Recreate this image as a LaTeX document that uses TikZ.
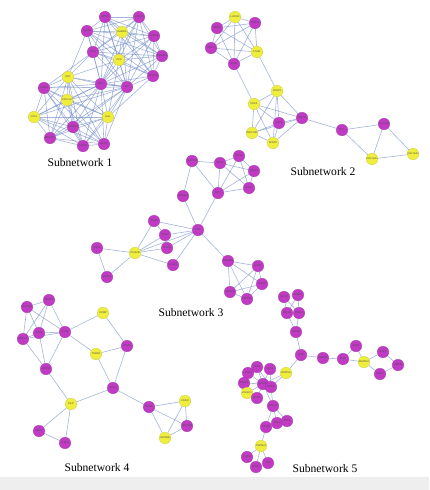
\documentclass[tikz,border=0pt]{standalone}
\usepackage{fontspec}
\setmainfont{Liberation Serif}
\newfontfamily\lblfont{Liberation Sans}
\pgfdeclarelayer{bg}
\pgfsetlayers{bg,main}
\definecolor{mag}{RGB}{192,58,196}
\definecolor{yel}{RGB}{240,238,60}
\definecolor{edc}{RGB}{115,140,198}
\definecolor{band}{RGB}{238,238,238}
\tikzset{
  gn/.style={circle, minimum size=11.5pt, inner sep=0pt, line width=0.3pt,
    font=\lblfont\fontsize{2.6}{2.8}\selectfont, text=black!70},
  mg/.style={gn, fill=mag, draw=mag!85!black},
  yl/.style={gn, fill=yel, draw=yel!85!black},
  ed/.style={draw=edc, line width=0.6pt, opacity=0.65},
  ttl/.style={font=\fontsize{11.6}{13}\selectfont}
}
\begin{document}
\begin{tikzpicture}[x=1pt,y=-1pt]
\useasboundingbox (0,0) rectangle (429,490);
\fill[band] (0,477) rectangle (429,490);
% ---------- Subnetwork 1 ----------
\foreach \n/\x/\y/\s/\l in {
 a1/105/17/mg/SCTR, a2/139/17/mg/GPR83, a3/87/31/mg/GLCM, a4/122/32/yl/GABRA, a5/154/36/mg/HTR1B,
 a6/93/52/mg/CRH, a7/119/60/yl/CCK, a8/162/56/mg/NPBWR, a9/153/76/mg/HCRTR1,
 a10/68/77/yl/SST, a11/101/84/mg/NPY, a12/127/87/mg/VIP, a13/44/88/mg/PENK,
 a14/67/100/yl/CXCL12, a15/34/117/yl/CXCL, a16/108/117/yl/GAL, a17/73/127/mg/PTGER3,
 a18/50/138/mg/ADRA2C, a19/83/146/mg/S1PR1, a20/104/144/mg/CCR3}
 \node[\s] (\n) at (\x,\y) {\l};
\node[ttl] (t1) at (80,163) {Subnetwork 1};
% ---------- Subnetwork 2 ----------
\foreach \n/\x/\y/\s/\l in {
 b1/235/17/yl/LHCGR, b2/255/23/mg/GPR22, b3/217/28/mg/NR5A, b4/211/48/mg/INSL3, b5/257/52/yl/FSHR,
 b6/234/64/mg/STAR, b7/277/91/yl/SFRP1, b8/254/104/yl/DKK2, b9/302/118/mg/WNT16, b10/279/123/mg/LRP5,
 b11/252/133/yl/WNT10B, b12/273/143/yl/SFRP2, b13/342/130/mg/DPT, b14/384/124/mg/COL12A1,
 b15/372/159/yl/COL14A1, b16/413/154/yl/COL15A1}
 \node[\s] (\n) at (\x,\y) {\l};
\node[ttl] (t2) at (323,172) {Subnetwork 2};
% ---------- Subnetwork 3 ----------
\foreach \n/\x/\y/\s/\l in {
 c1/192/161/mg/GUCY1A, c2/220/163/mg/NOS1, c3/239/156/mg/NOS2, c4/254/171/mg/NOS3, c5/249/188/mg/GCH1,
 c6/218/193/mg/AKT1, c7/183/196/mg/ARHGEF, c8/198/230/mg/FYN, c9/154/221/mg/ITGA8, c10/165/235/mg/ITGB7,
 c11/167/248/mg/ITGA4, c12/135/253/yl/ITGA2B, c13/97/248/mg/FBN1, c14/173/265/mg/VCAM1, c15/107/277/mg/MFAP4,
 c16/228/261/mg/CSF2RB, c17/258/266/mg/IL5RA, c18/262/284/mg/IL3RA, c19/230/292/mg/PIK3R5, c20/247/299/mg/PIK3CG}
 \node[\s] (\n) at (\x,\y) {\l};
\node[ttl] (t3) at (191,313) {Subnetwork 3};
% ---------- Subnetwork 4 ----------
\foreach \n/\x/\y/\s/\l in {
 d1/27/307/mg/SLC25A1, d2/49/300/mg/DGAT2, d3/23/339/mg/PNPLA, d4/39/333/mg/SCD, d5/65/332/mg/CD36,
 d6/103/313/yl/COMP, d7/96/354/yl/THBS4, d8/127/346/mg/ITGA5, d9/46/369/mg/APOB, d10/113/388/mg/SPP1,
 d11/71/404/yl/CILP, d12/149/407/mg/BDNF, d13/185/401/yl/CNIH3, d14/187/426/mg/CACNG3,
 d15/165/438/yl/GRIN2B, d16/39/431/mg/NPC2, d17/65/443/mg/LTBP1}
 \node[\s] (\n) at (\x,\y) {\l};
\node[ttl] (t4) at (97,468) {Subnetwork 4};
% ---------- Subnetwork 5 ----------
\foreach \n/\x/\y/\s/\l in {
 e1/284/297/mg/RPL30, e2/298/295/mg/RPS15, e3/287/313/mg/RPL28, e4/299/313/mg/RPS14, e5/296/332/mg/EIF3E,
 e6/301/355/mg/UBB, e7/323/358/mg/NEDD4, e8/343/359/mg/KLF5, e9/356/346/mg/CDH1, e10/364/362/yl/MAPK10,
 e11/383/352/mg/MAPT, e12/398/365/mg/GSK3B, e13/380/374/mg/MAP2, e14/286/373/yl/WNT5A,
 e15/257/367/mg/FZD4, e16/270/369/mg/FZD1, e17/248/373/mg/LRRC4, e18/244/383/mg/NTRK2, e19/263/384/mg/RHOA,
 e20/271/387/mg/ROR2, e21/247/393/yl/LINGO1, e22/257/398/mg/RTN4, e23/273/406/mg/CDC42,
 e24/277/423/mg/PAK1, e25/287/421/mg/PAK3, e26/266/427/mg/TRIM9, e27/261/446/yl/TSPAN1,
 e28/247/457/mg/CD151, e29/268/463/mg/CD9, e30/256/467/mg/ITGB1}
 \node[\s] (\n) at (\x,\y) {\l};
\node[ttl] (t5) at (325,469) {Subnetwork 5};
% ---------- edges ----------
\begin{pgfonlayer}{bg}
\foreach \i in {1,...,9,11,12}
  \foreach \j in {1,...,9,11,12}
    {\ifnum\i<\j \draw[ed] (a\i) -- (a\j);\fi}
\foreach \i in {10,...,20}
  \foreach \j in {10,...,20}
    {\ifnum\i<\j \draw[ed] (a\i) -- (a\j);\fi}
\foreach \a/\b in {a10/a6, a10/a7, a13/a6, a16/a9, a16/a7, a10/a3}
  \draw[ed] (\a) -- (\b);
\foreach \i in {1,...,6}
  \foreach \j in {1,...,6}
    {\ifnum\i<\j \draw[ed] (b\i) -- (b\j);\fi}
\foreach \i in {7,...,12}
  \foreach \j in {7,...,12}
    {\ifnum\i<\j \draw[ed] (b\i) -- (b\j);\fi}
\foreach \a/\b in {b6/b8, b5/b7, b9/b13, b13/b14, b13/b15, b14/b15, b14/b16, b15/b16}
  \draw[ed] (\a) -- (\b);
\foreach \a/\b in {c1/c2, c1/c6, c1/c7, c2/c3, c2/c4, c2/c5, c2/c6, c3/c4, c3/c5, c3/c6,
  c4/c5, c4/c6, c5/c6, c6/c8, c7/c8, c8/c9, c8/c10, c8/c11, c8/c12, c8/c14, c8/c16,
  c9/c10, c9/c12, c10/c12, c10/c11, c11/c12, c12/c14, c12/c13, c12/c15, c13/c15}
  \draw[ed] (\a) -- (\b);
\foreach \i in {16,...,20}
  \foreach \j in {16,...,20}
    {\ifnum\i<\j \draw[ed] (c\i) -- (c\j);\fi}
\foreach \a/\b in {d1/d2, d1/d3, d1/d4, d1/d5, d2/d3, d2/d4, d2/d5, d3/d4, d3/d5, d4/d5,
  d3/d9, d4/d9, d5/d9, d5/d6, d5/d7, d6/d8, d7/d8, d7/d10, d8/d10, d9/d11, d11/d10,
  d10/d12, d11/d16, d11/d17, d16/d17, d12/d13, d12/d14, d12/d15, d13/d14, d13/d15, d14/d15}
  \draw[ed] (\a) -- (\b);
\foreach \a/\b in {e1/e2, e1/e3, e1/e4, e2/e3, e2/e4, e3/e4, e3/e5, e4/e5, e5/e6,
  e6/e7, e7/e8, e8/e10, e8/e9, e9/e10, e10/e11, e10/e13, e11/e12, e13/e12,
  e6/e14, e14/e19, e14/e20, e15/e19, e16/e19, e17/e19, e18/e19, e21/e19, e22/e19, e20/e19,
  e16/e20, e15/e20, e17/e15, e19/e23, e20/e23, e23/e24, e23/e25, e23/e26, e24/e25,
  e26/e27, e27/e28, e27/e29, e27/e30, e28/e30, e30/e29}
  \draw[ed] (\a) -- (\b);
\end{pgfonlayer}
\end{tikzpicture}
\end{document}
